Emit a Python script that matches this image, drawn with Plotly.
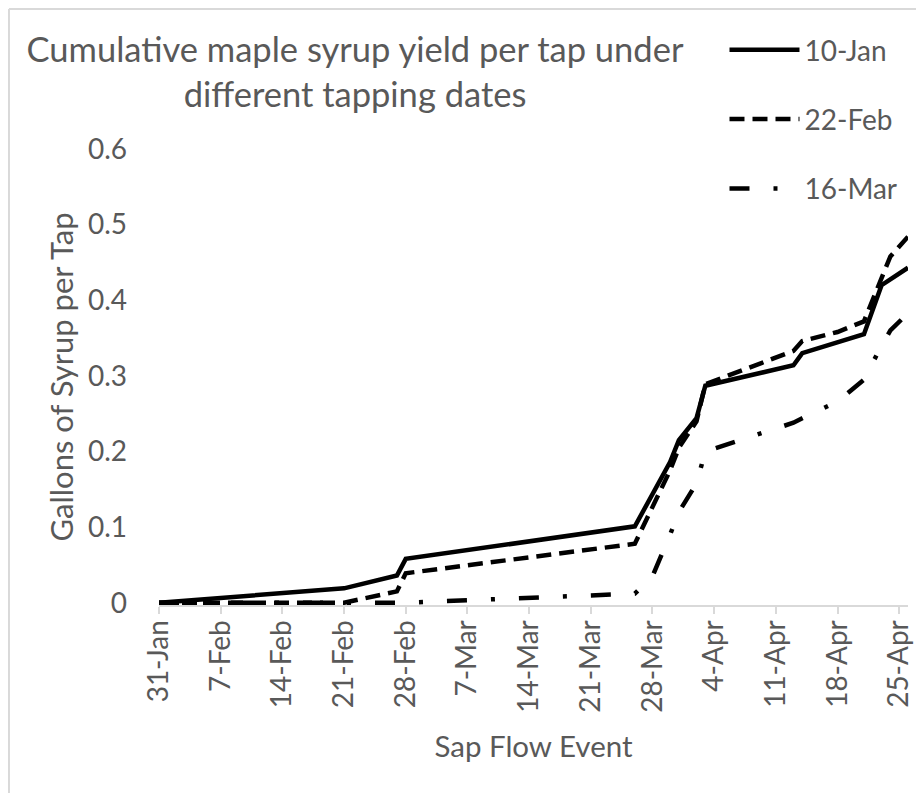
import plotly.graph_objects as go

# ---- data ----
event_dates = ["2019-01-31", "2019-02-21", "2019-02-27", "2019-02-28", "2019-03-26",
               "2019-03-28", "2019-03-30", "2019-03-31", "2019-04-02", "2019-04-03",
               "2019-04-13", "2019-04-14", "2019-04-18", "2019-04-21", "2019-04-23",
               "2019-04-24", "2019-04-26"]
yield_10jan = [0.000, 0.019, 0.036, 0.058, 0.101, 0.143, 0.186, 0.215, 0.244, 0.287,
               0.314, 0.330, 0.345, 0.355, 0.420, 0.428, 0.443]
yield_22feb = [0.000, 0.000, 0.015, 0.039, 0.078, 0.125, 0.175, 0.205, 0.240, 0.289,
               0.333, 0.346, 0.358, 0.372, 0.432, 0.458, 0.484]
yield_16mar = [0.000, 0.000, 0.000, 0.000, 0.012, 0.035, 0.090, 0.120, 0.158, 0.200,
               0.238, 0.244, 0.266, 0.295, 0.340, 0.360, 0.383]
series_names = ["10-Jan", "22-Feb", "16-Mar"]

title_text = "Cumulative maple syrup yield per tap under<br>different tapping dates"
x_title = "Sap Flow Event"
y_title = "Gallons of Syrup per Tap"

FONT = "Lato, Carlito, Calibri, sans-serif"
GREY = "#595959"
LINEGREY = "#d9d9d9"

fig = go.Figure()
styles = [dict(dash="solid"), dict(dash="15px,8px"), dict(dash="20px,24px,4px,24px")]
for i, (name, vals) in enumerate(zip(series_names, [yield_10jan, yield_22feb, yield_16mar])):
    fig.add_trace(go.Scatter(
        x=event_dates, y=vals, name=name, mode="lines",
        line=dict(color="black", width=4.5, **styles[i]),
        legendgroup=name,
    ))

fig.update_layout(
    width=924, height=793,
    margin=dict(l=151, r=24, t=141, b=196, autoexpand=False),
    paper_bgcolor="white", plot_bgcolor="white",
    font=dict(family=FONT, color=GREY, size=26),
    showlegend=True,
    title=dict(text=title_text, font=dict(family=FONT, size=34.5, color=GREY),
               x=347 / 924, xanchor="center", xref="container",
               y=1 - 54 / 793, yanchor="top", yref="container"),
    legend=dict(x=0.755, xanchor="left", y=1.272, yanchor="top",
                font=dict(family=FONT, size=28, color=GREY),
                itemwidth=70, tracegroupgap=30, bgcolor="rgba(0,0,0,0)"),
    xaxis=dict(type="date", range=["2019-01-31", "2019-04-26"],
               tick0="2019-01-31", dtick=7 * 86400000, tickformat="%-d-%b",
               tickangle=-90, ticks="outside", ticklen=7, tickcolor=LINEGREY,
               tickwidth=2, showline=True, linecolor=LINEGREY, linewidth=2,
               showgrid=False, zeroline=False, automargin=False,
               ticklabelstandoff=-5,
               tickfont=dict(family=FONT, size=28, color=GREY),
               title=dict(text=x_title, standoff=25,
                          font=dict(family=FONT, size=29.5, color=GREY))),
    yaxis=dict(range=[-0.003, 0.6], dtick=0.1, tick0=0, showgrid=False,
               zeroline=False, showline=False, ticks="", automargin=False,
               ticklabelstandoff=31,
               tickfont=dict(family=FONT, size=28, color=GREY),
               title=dict(text=y_title, standoff=5,
                          font=dict(family=FONT, size=31, color=GREY))),
    shapes=[
        dict(type="line", xref="paper", yref="paper", x0=-0.2003, x1=1.1,
             y0=1.307, y1=1.307, line=dict(color=LINEGREY, width=2)),
        dict(type="line", xref="paper", yref="paper", x0=-0.2003, x1=-0.2003,
             y0=1.307, y1=-0.45, line=dict(color=LINEGREY, width=2)),
    ],
)

fig.write_html("out.html")
